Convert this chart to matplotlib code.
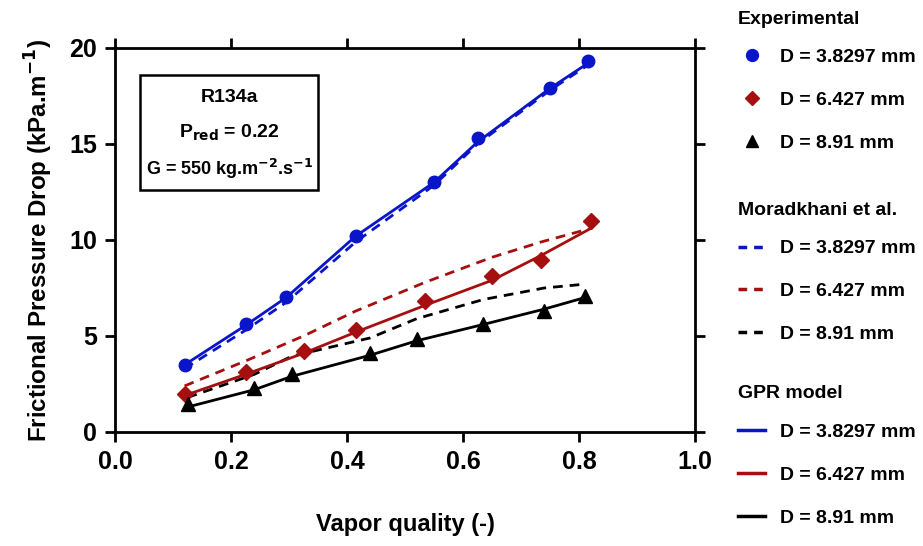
import matplotlib
matplotlib.use("Agg")
import matplotlib.pyplot as plt
from matplotlib.lines import Line2D
from matplotlib.patches import Rectangle

plt.rcParams['font.family'] = ['Liberation Sans', 'DejaVu Sans']
plt.rcParams['font.weight'] = 'bold'
plt.rcParams['mathtext.default'] = 'bf'

# Experimental data
x_exp_1 = [0.12, 0.225, 0.295, 0.415, 0.55, 0.625, 0.75, 0.815]
y_exp_1 = [3.5, 5.6, 7.05, 10.2, 13.0, 15.3, 17.9, 19.3]
x_exp_2 = [0.12, 0.225, 0.325, 0.415, 0.535, 0.65, 0.735, 0.82]
y_exp_2 = [2.0, 3.1, 4.2, 5.3, 6.8, 8.1, 8.95, 11.0]
x_exp_3 = [0.125, 0.24, 0.305, 0.44, 0.52, 0.635, 0.74, 0.81]
y_exp_3 = [1.45, 2.3, 3.0, 4.1, 4.85, 5.6, 6.3, 7.1]

# Moradkhani et al. correlation
y_mor_1 = [3.3, 5.3, 6.75, 9.9, 12.85, 15.0, 17.8, 19.1]
y_mor_2 = [2.4, 3.7, 5.0, 6.3, 7.8, 9.1, 9.9, 10.6]
y_mor_3 = [1.8, 3.0, 3.95, 4.9, 5.9, 6.9, 7.5, 7.7]

# GPR model
y_gpr_1 = [3.5, 5.55, 7.0, 10.2, 13.0, 15.1, 17.9, 19.2]
y_gpr_2 = [1.9, 3.0, 4.1, 5.2, 6.6, 7.9, 9.2, 10.6]
y_gpr_3 = [1.3, 2.2, 2.9, 4.0, 4.75, 5.6, 6.4, 7.0]

labels = ['D = 3.8297 mm', 'D = 6.427 mm', 'D = 8.91 mm']
colors = ['#0A14C8', '#A50F0F', '#000000']
markers = ['o', 'D', '^']
msizes = [9, 8, 9.5]

fig = plt.figure(figsize=(9.23, 5.46), dpi=100)
ax = fig.add_axes([0.1246, 0.2088, 0.6284, 0.7033])

exp_x = [x_exp_1, x_exp_2, x_exp_3]
exp_y = [y_exp_1, y_exp_2, y_exp_3]
mor_y = [y_mor_1, y_mor_2, y_mor_3]
gpr_y = [y_gpr_1, y_gpr_2, y_gpr_3]

lw = 2.0
for i in range(3):
    ax.plot(exp_x[i], mor_y[i], color=colors[i], lw=lw, ls=(0, (3.5, 2.5)), zorder=2)
    ax.plot(exp_x[i], gpr_y[i], color=colors[i], lw=lw, ls='-', zorder=3)
    ax.plot(exp_x[i], exp_y[i], ls='none', marker=markers[i], ms=msizes[i],
            color=colors[i], zorder=4)

ax.set_xlim(0, 1.0)
ax.set_ylim(0, 20)
ax.set_xticks([0.0, 0.2, 0.4, 0.6, 0.8, 1.0])
ax.set_xticklabels(['0.0', '0.2', '0.4', '0.6', '0.8', '1.0'])
ax.set_yticks([0, 5, 10, 15, 20])
for s in ax.spines.values():
    s.set_linewidth(2.0)
ax.tick_params(axis='both', which='major', direction='out', length=7, width=2.0,
               labelsize=18, top=True, right=True, pad=6)
for lab in ax.get_xticklabels() + ax.get_yticklabels():
    lab.set_fontweight('bold')

ax.set_xlabel('Vapor quality (-)', fontsize=17, fontweight='bold', labelpad=28)
ax.set_ylabel(r'Frictional Pressure Drop (kPa.m$^{-1}$)', fontsize=17.4,
              fontweight='bold', labelpad=10)

# annotation box
ax.add_patch(Rectangle((0.043, 0.63), 0.307, 0.30, transform=ax.transAxes,
                       fill=False, lw=1.8, ec='black', zorder=5))
ax.text(0.197, 0.87, 'R134a', transform=ax.transAxes, ha='center', va='center',
        fontsize=14, fontweight='bold')
ax.text(0.197, 0.78, r'P$_{\mathbf{red}}$ = 0.22', transform=ax.transAxes,
        ha='center', va='center', fontsize=14, fontweight='bold')
ax.text(0.197, 0.685, r'G = 550 kg.m$^{\mathbf{-2}}$.s$^{\mathbf{-1}}$',
        transform=ax.transAxes, ha='center', va='center', fontsize=13,
        fontweight='bold')

# legends
exp_handles = [Line2D([], [], ls='none', marker=markers[i], ms=msizes[i] * 0.95,
                      color=colors[i]) for i in range(3)]
mor_handles = [Line2D([], [], ls=(0, (2.5, 2.0)), lw=2.5, color=colors[i]) for i in range(3)]
gpr_handles = [Line2D([], [], ls='-', lw=2.5, color=colors[i]) for i in range(3)]

common = dict(loc='upper left', frameon=False, fontsize=14, labelspacing=1.3,
              handlelength=1.4, handletextpad=0.75, borderpad=0.0,
              alignment='left',
              title_fontproperties={'weight': 'bold', 'size': 14})
leg1 = fig.legend(exp_handles, labels, title='Experimental',
                  bbox_to_anchor=(0.789, 0.998), **common)
leg2 = fig.legend(mor_handles, labels, title='Moradkhani et al.',
                  bbox_to_anchor=(0.789, 0.648), **common)
leg3 = fig.legend(gpr_handles, labels, title='GPR model',
                  bbox_to_anchor=(0.789, 0.312), **common)
for leg in (leg1, leg2, leg3):
    for t in leg.get_texts():
        t.set_fontweight('bold')
    leg._legend_box.sep = 15

fig.savefig('out.png', dpi=100)
